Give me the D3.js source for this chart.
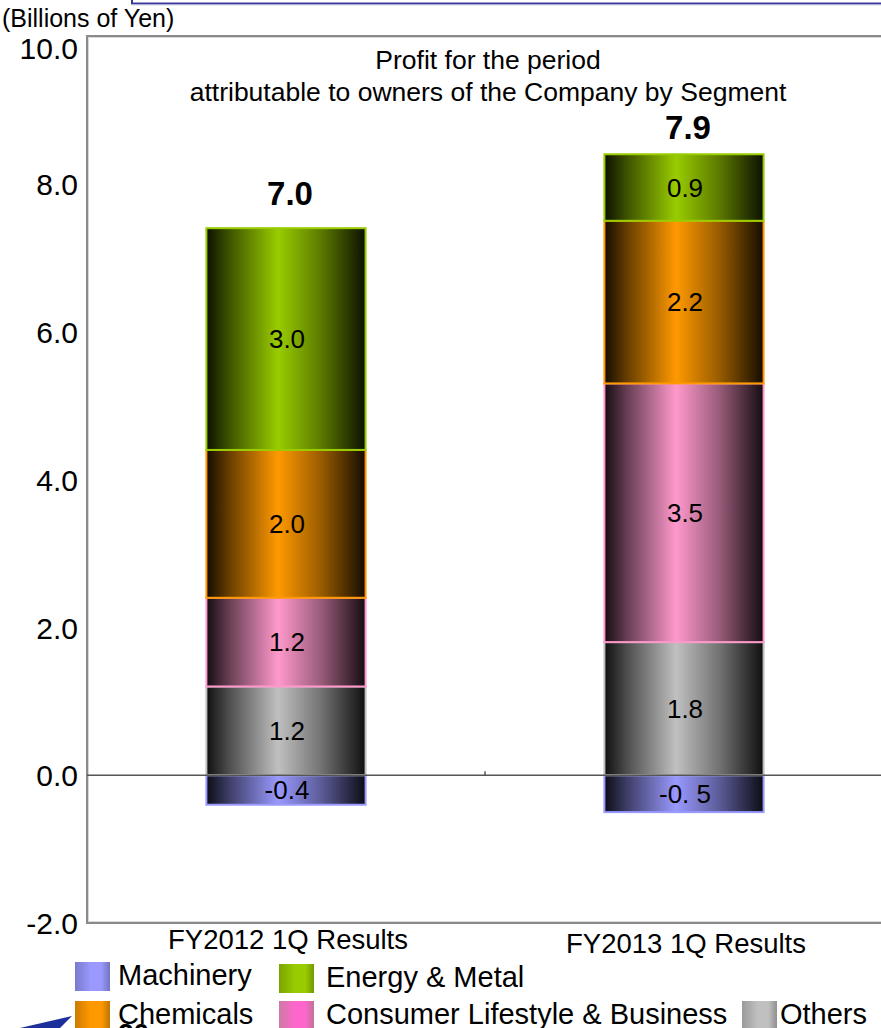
<!DOCTYPE html>
<html>
<head>
<meta charset="utf-8">
<script src="https://cdn.jsdelivr.net/npm/d3@7/dist/d3.min.js"></script>
<style>
  html, body { margin: 0; padding: 0; background: #fff; overflow: hidden; }
  svg { display: block; font-family: "Liberation Sans", Arial, sans-serif; }
</style>
</head>
<body>
<svg id="chart" width="881" height="1028"></svg>
<script>
// Profit for the period attributable to owners of the Company, by segment (billions of yen)
const categories = ["FY2012 1Q Results", "FY2013 1Q Results"];
const machinery = [-0.4, -0.5];
const others = [1.2, 1.8];
const consumer = [1.2, 3.5];
const chemicals = [2.0, 2.2];
const energy = [3.0, 0.9];
const machineryLabels = ["-0.4", "-0. 5"];
const yTicks = [-2, 0, 2, 4, 6, 8, 10];

const svg = d3.select("#chart");
const W = 881, H = 1028;
const plotLeft = 87, plotTop = 36, plotBottom = 923, plotRight = 883;

const fmt = d => d3.format(".1f")(d).replace("\u2212", "-");

const x = d3.scaleBand().domain(categories).range([plotLeft, plotRight]).paddingInner(0.6).paddingOuter(0.3);
const y = d3.scaleLinear().domain([-2, 10]).range([plotBottom, plotTop]);

// segment definitions: bar colour, legend colour
const segs = [
  { key: "Machinery", values: machinery, color: "#9999ff", legend: "#9999ff" },
  { key: "Others", values: others, color: "#c0c0c0", legend: "#c0c0c0" },
  { key: "Consumer Lifestyle & Business", values: consumer, color: "#ff99cc", legend: "#ff66cc" },
  { key: "Chemicals", values: chemicals, color: "#ff9900", legend: "#ff9900" },
  { key: "Energy & Metal", values: energy, color: "#99cc00", legend: "#99cc00" }
];

const defs = svg.append("defs");
segs.forEach((s, i) => {
  const mix = t => d3.interpolateRgb("#000", s.color)(t);
  const g = defs.append("linearGradient").attr("id", "bar" + i).attr("x1", "0").attr("x2", "1").attr("y1", "0").attr("y2", "0");
  g.append("stop").attr("offset", "0").attr("stop-color", mix(0.08));
  g.append("stop").attr("offset", "0.14").attr("stop-color", mix(0.4));
  g.append("stop").attr("offset", "0.45").attr("stop-color", s.color);
  g.append("stop").attr("offset", "0.72").attr("stop-color", mix(0.6));
  g.append("stop").attr("offset", "1").attr("stop-color", mix(0.08));
  const lg = defs.append("linearGradient").attr("id", "leg" + i).attr("x1", "0").attr("x2", "1");
  lg.append("stop").attr("offset", "0").attr("stop-color", mix(0.8));
  lg.append("stop").attr("offset", "0.45").attr("stop-color", s.legend);
  lg.append("stop").attr("offset", "0.75").attr("stop-color", s.legend);
  lg.append("stop").attr("offset", "1").attr("stop-color", mix(0.75));
});

// header strip line at the very top
svg.append("rect").attr("x", 132).attr("y", -10).attr("width", 800).attr("height", 13.5)
  .attr("fill", "#fff").attr("stroke", "#3a3a9c").attr("stroke-width", 2);
svg.append("line").attr("x1", 132).attr("x2", W).attr("y1", 4.8).attr("y2", 4.8)
  .attr("stroke", "#b8b8d8").attr("stroke-width", 1);

// plot frame
svg.append("rect").attr("x", plotLeft).attr("y", plotTop).attr("width", plotRight - plotLeft).attr("height", plotBottom - plotTop)
  .attr("fill", "none").attr("stroke", "#8a8a8a").attr("stroke-width", 2);
svg.append("rect").attr("x", plotLeft + 1.5).attr("y", plotTop + 1.5).attr("width", plotRight - plotLeft - 3).attr("height", plotBottom - plotTop - 3)
  .attr("fill", "none").attr("stroke", "#d8d8d8").attr("stroke-width", 1);

// unit label
svg.append("text").attr("x", 2).attr("y", 27).attr("font-size", 25).attr("fill", "#000").text("(Billions of Yen)");

// y axis labels
const yAxis = d3.axisLeft(y).tickValues(yTicks).tickFormat(fmt).tickSize(0).tickPadding(9);
const ya = svg.append("g").attr("transform", `translate(${plotLeft},0)`).call(yAxis);
ya.select(".domain").remove();
ya.selectAll("text").attr("font-size", 30).attr("fill", "#000").attr("font-family", "Liberation Sans, Arial, sans-serif")
  .attr("dy", d => d === 10 ? "0.76em" : "0.36em");

// title
const title = svg.append("text").attr("text-anchor", "middle").attr("font-size", 26.5).attr("fill", "#000");
title.append("tspan").attr("x", 488).attr("y", 69).text("Profit for the period");
title.append("tspan").attr("x", 488).attr("y", 101).text("attributable to owners of the Company by Segment");

// stacked bars
const bw = x.bandwidth();
const totalY = [205, 138];
categories.forEach((cat, ci) => {
  let pos = 0;
  segs.forEach((s, si) => {
    const v = s.values[ci];
    let y0, y1;
    if (v < 0) { y0 = v; y1 = 0; }
    else { y0 = pos; y1 = pos + v; pos = y1; }
    const g = svg.append("g");
    g.append("rect")
      .attr("x", x(cat)).attr("width", bw)
      .attr("y", y(y1)).attr("height", y(y0) - y(y1))
      .attr("fill", `url(#bar${si})`)
      .attr("stroke", s.color).attr("stroke-width", 2);
    g.append("text")
      .attr("x", x(cat) + bw / 2 + 1).attr("y", (y(y0) + y(y1)) / 2)
      .attr("dy", "0.36em").attr("text-anchor", "middle")
      .attr("font-size", 26).attr("fill", "#000")
      .text(s.key === "Machinery" ? machineryLabels[ci] : fmt(v));
  });
  // net total above the stack
  const net = d3.sum(segs, s => s.values[ci]);
  svg.append("text")
    .attr("x", x(cat) + bw / 2 + 4).attr("y", y(pos) - (ci === 0 ? 23 : 15))
    .attr("text-anchor", "middle").attr("font-size", 33).attr("font-weight", "bold").attr("fill", "#000")
    .text(fmt(net));
});

// zero line with category divider tick
svg.append("line").attr("x1", plotLeft).attr("x2", W).attr("y1", y(0)).attr("y2", y(0))
  .attr("stroke", "#555").attr("stroke-width", 1.5);
const divX = x(categories[1]) - x.step() * x.paddingInner() / 2;
svg.append("line").attr("x1", divX).attr("x2", divX).attr("y1", y(0) - 4).attr("y2", y(0))
  .attr("stroke", "#333").attr("stroke-width", 1.2);

// category labels
const catY = [949, 953];
categories.forEach((cat, ci) => {
  svg.append("text").attr("x", x(cat) + bw / 2 + 2).attr("y", catY[ci])
    .attr("text-anchor", "middle").attr("font-size", 27.5).attr("fill", "#000").text(cat);
});

// legend
const legendItems = [
  { si: 0, x: 75, y: 962, tx: 118 },
  { si: 4, x: 279, y: 964, tx: 326 },
  { si: 3, x: 75, y: 1001, tx: 118 },
  { si: 2, x: 279, y: 1001, tx: 326 },
  { si: 1, x: 742, y: 1001, tx: 780 }
];
legendItems.forEach(it => {
  const s = segs[it.si];
  svg.append("rect").attr("x", it.x).attr("y", it.y).attr("width", 35).attr("height", 29)
    .attr("fill", `url(#leg${it.si})`);
  svg.append("text").attr("x", it.tx).attr("y", it.y + 23)
    .attr("font-size", 29).attr("fill", "#000").text(s.key);
});

// page number peeking in at the bottom edge, and corner arrow mark
svg.append("text").attr("x", 118).attr("y", 1043).attr("font-size", 28).attr("font-weight", "bold").attr("fill", "#000").text("20");
svg.append("path").attr("d", "M20,1028 L72,1016 L60,1028 Z").attr("fill", "#1c2f9a");
</script>
</body>
</html>
